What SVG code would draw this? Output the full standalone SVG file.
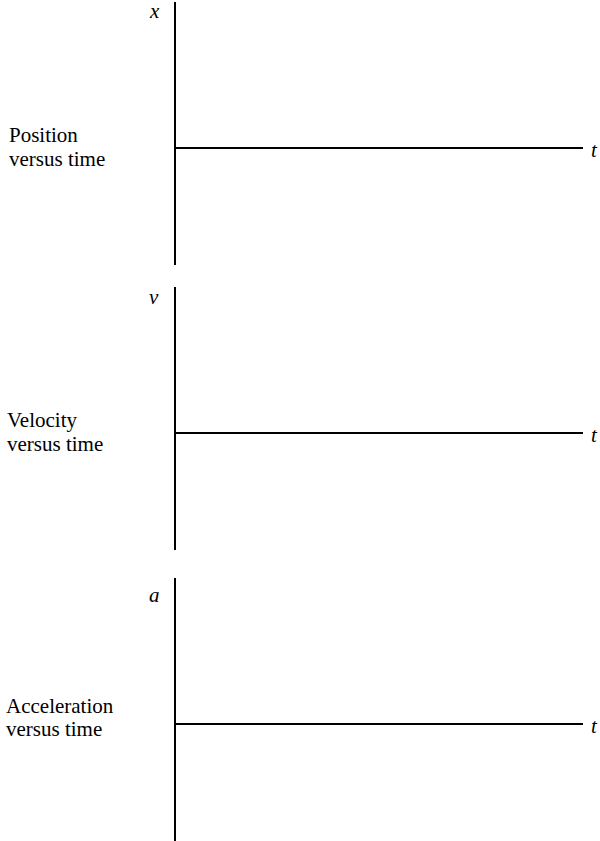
<svg xmlns="http://www.w3.org/2000/svg" width="600" height="841" viewBox="0 0 600 841">
<style>
.ax{stroke:#000;stroke-width:2;fill:none}
.lbl{font-family:"Liberation Serif",serif;font-size:21px;fill:#000}
.var{font-family:"Liberation Serif",serif;font-size:21px;font-style:italic;fill:#000}
</style>
<rect width="600" height="841" fill="#fff"/>
<g id="graph-position">
<line class="ax" x1="175" y1="2" x2="175" y2="265"/>
<line class="ax" x1="175" y1="148" x2="583" y2="148"/>
<text class="var" x="150" y="18">x</text>
<text class="var" x="591" y="157">t</text>
<text class="lbl" x="9" y="141.5">Position</text>
<text class="lbl" x="9" y="165.5">versus time</text>
</g>
<g id="graph-velocity">
<line class="ax" x1="175" y1="287" x2="175" y2="550"/>
<line class="ax" x1="175" y1="433" x2="583" y2="433"/>
<text class="var" x="149" y="304">v</text>
<text class="var" x="591" y="442">t</text>
<text class="lbl" x="7" y="427">Velocity</text>
<text class="lbl" x="7" y="451">versus time</text>
</g>
<g id="graph-acceleration">
<line class="ax" x1="175" y1="578" x2="175" y2="841"/>
<line class="ax" x1="175" y1="724" x2="583" y2="724"/>
<text class="var" x="149" y="602">a</text>
<text class="var" x="591" y="733">t</text>
<text class="lbl" x="6" y="712.5">Acceleration</text>
<text class="lbl" x="6" y="736">versus time</text>
</g>
</svg>
